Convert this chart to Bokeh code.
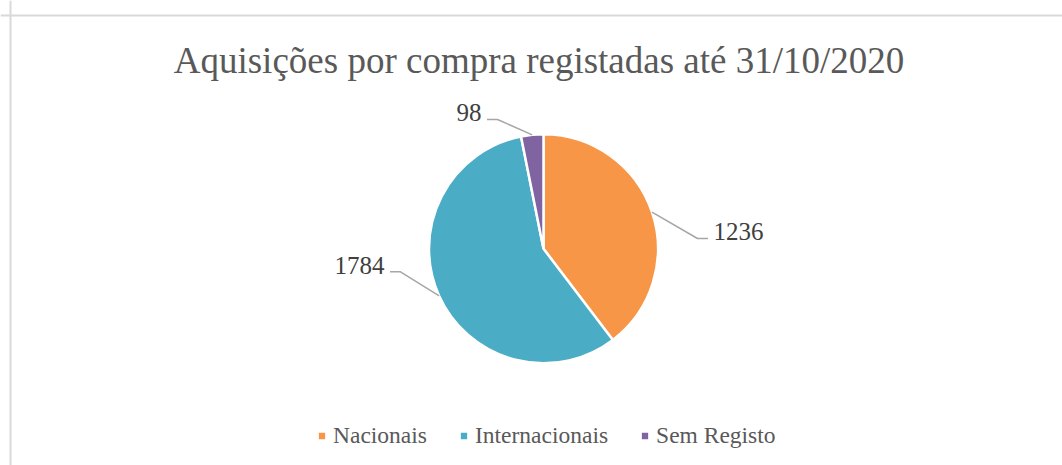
import math
from bokeh.plotting import figure
from bokeh.models import Range1d, Span, Legend, LegendItem, ColumnDataSource
from bokeh.core.properties import value
from bokeh.embed import file_html
from bokeh.resources import INLINE

# ---- data ----
title_text = "Aquisições por compra registadas até 31/10/2020"
categories = ["Nacionais", "Internacionais", "Sem Registo"]
counts = [1236, 1784, 98]
colors = ["#F79646", "#4BACC6", "#8064A2"]

# ---- layout (pixels) ----
W, H = 1062, 465
cx, cy, R = 543, H - 248.3, 114.5
# label elbow offsets relative to pie centre (px, y up) and side (+1 right, -1 left)
elbow_dx = [154, -143, -46]
elbow_dy = [10.3, -23, 129.3]
side = [1, -1, -1]
LEG = 10.5
GAP = 5.5
MID = 6.8

p = figure(width=W, height=H, output_backend="svg", toolbar_location=None,
           x_range=Range1d(0, W), y_range=Range1d(0, H),
           x_axis_location=None, y_axis_location=None,
           min_border=0, min_border_left=0, min_border_right=0,
           min_border_top=0, min_border_bottom=0)
p.grid.visible = False
p.outline_line_color = None
p.background_fill_color = "white"
p.border_fill_color = "white"

# chart area border (left + top only visible in reference)
p.add_layout(Span(location=10, dimension="height", line_color="#D9D9D9", line_width=2))
p.add_layout(Span(location=H - 15, dimension="width", line_color="#D9D9D9", line_width=2))

# wedges
total = sum(counts)
starts, ends, mids = [], [], []
cum = 0
for v in counts:
    a0 = math.pi / 2 - 2 * math.pi * cum / total
    cum += v
    a1 = math.pi / 2 - 2 * math.pi * cum / total
    starts.append(a0)
    ends.append(a1)
    mids.append((a0 + a1) / 2)

src = ColumnDataSource(dict(cat=categories, val=counts, color=colors,
                            start=starts, end=ends))
wr = p.wedge(x=cx, y=cy, radius=R, start_angle="start", end_angle="end",
             direction="clock", fill_color="color", line_color="white",
             line_width=2.5, source=src)

# leader lines + labels
xs, ys = [], []
for i, v in enumerate(counts):
    ex, ey = cx + R * math.cos(mids[i]), cy + R * math.sin(mids[i])
    bx, by = cx + elbow_dx[i], cy + elbow_dy[i]
    hx = bx + side[i] * LEG
    xs.append([ex, bx, hx])
    ys.append([ey, by, by])
    p.text(x=[hx + side[i] * GAP], y=[by + MID], text=[str(v)],
           text_align="left" if side[i] > 0 else "right",
           text_baseline="middle", text_font=value("Liberation Serif"),
           text_font_size="25px", text_color="#404040")
p.multi_line(xs=xs, ys=ys, line_color="#A6A6A6", line_width=1.5)

# title
p.text(x=[538.5], y=[H - 59.5], text=[title_text], text_align="center",
       text_baseline="middle", text_font=value("Liberation Serif"),
       text_font_size="37px", text_color="#595959")

# legend
items = [LegendItem(label=c, renderers=[wr], index=i) for i, c in enumerate(categories)]
legend = Legend(items=items, orientation="horizontal", location=(316, H - 449),
                glyph_width=11, glyph_height=11, label_standoff=6, spacing=31,
                padding=0, margin=0, border_line_color=None,
                background_fill_alpha=0, label_text_font="Liberation Serif",
                label_text_font_size="23.5px", label_text_color="#595959")
p.add_layout(legend)

open("out.html", "w").write(file_html(p, INLINE))
